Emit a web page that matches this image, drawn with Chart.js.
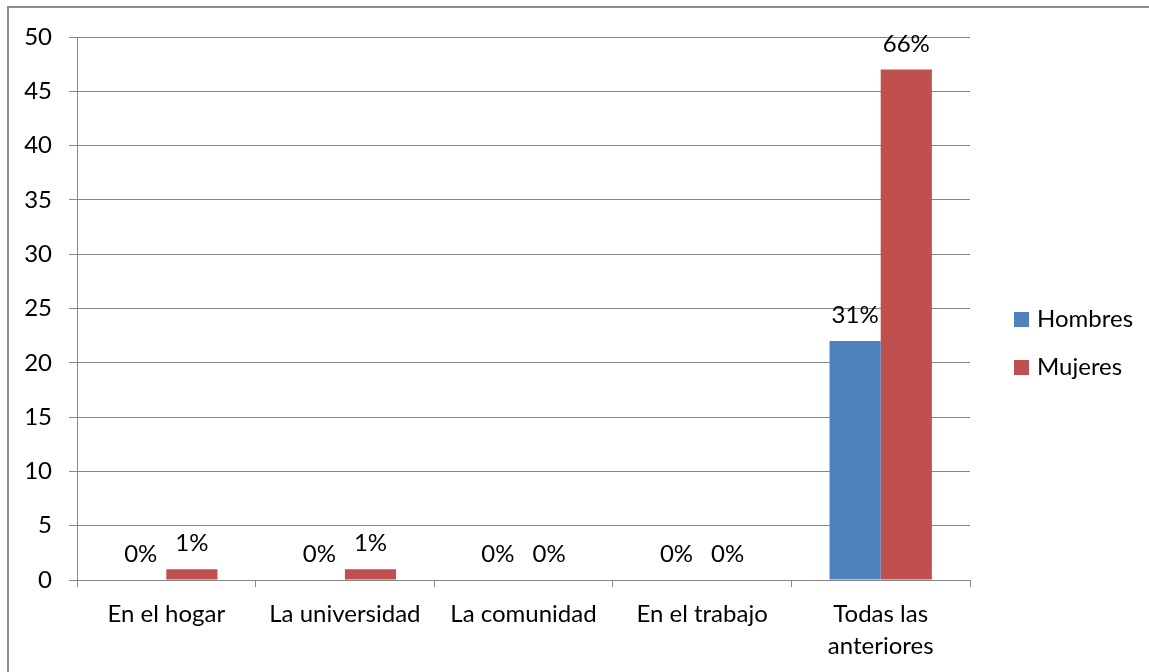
<!DOCTYPE html>
<html>
<head>
<meta charset="utf-8">
<script src="https://cdn.jsdelivr.net/npm/chart.js@4.4.1/dist/chart.umd.min.js"></script>
<style>
html,body{margin:0;padding:0;background:#fff;}
#wrap{width:1149px;height:672px;position:relative;}
</style>
</head>
<body>
<div id="wrap"><canvas id="c" width="1149" height="672"></canvas></div>
<script>
const categories = ['En el hogar', 'La universidad', 'La comunidad', 'En el trabajo', ['Todas las', 'anteriores']];
const seriesNames = ['Hombres', 'Mujeres'];
const hombres = [0, 0, 0, 0, 22];
const mujeres = [1, 1, 0, 0, 47];
const hombresLabels = ['0%', '0%', '0%', '0%', '31%'];
const mujeresLabels = ['1%', '1%', '0%', '0%', '66%'];
const yMin = 0, yMax = 50, yStep = 5;

const FONT = 'Lato';
const FS = 24;
const GRID = '#868686';

const borderPlugin = {
  id: 'outerBorder',
  beforeDraw(chart) {
    const ctx = chart.ctx;
    ctx.save();
    ctx.fillStyle = '#fff';
    ctx.fillRect(0, 0, chart.width, chart.height);
    ctx.strokeStyle = '#8c8c8c';
    ctx.lineWidth = 2;
    ctx.beginPath();
    ctx.moveTo(8, chart.height);
    ctx.lineTo(8, 7);
    ctx.lineTo(chart.width, 7);
    ctx.stroke();
    ctx.restore();
  }
};

const labelPlugin = {
  id: 'barLabels',
  afterDatasetsDraw(chart) {
    const ctx = chart.ctx;
    const sets = [hombresLabels, mujeresLabels];
    ctx.save();
    ctx.font = FS + 'px ' + FONT;
    ctx.fillStyle = '#000';
    ctx.textAlign = 'center';
    ctx.textBaseline = 'alphabetic';
    chart.data.datasets.forEach((ds, di) => {
      const meta = chart.getDatasetMeta(di);
      meta.data.forEach((bar, i) => {
        ctx.fillText(sets[di][i], bar.x, bar.y - 18);
      });
    });
    ctx.restore();
  }
};

// Legend drawn to the right of the plot area, from the datasets
const legendPlugin = {
  id: 'sideLegend',
  afterDraw(chart) {
    const ctx = chart.ctx;
    const area = chart.chartArea;
    const boxX = area.right + 44;
    const firstTop = 312;
    const step = 48;
    ctx.save();
    ctx.font = FS + 'px ' + FONT;
    ctx.textAlign = 'left';
    ctx.textBaseline = 'alphabetic';
    chart.data.datasets.forEach((ds, i) => {
      const y = firstTop + i * step;
      ctx.fillStyle = ds.backgroundColor;
      ctx.fillRect(boxX, y, 15, 15);
      ctx.fillStyle = '#000';
      ctx.fillText(ds.label, boxX + 23, y + 15);
    });
    ctx.restore();
  }
};

new Chart(document.getElementById('c'), {
  type: 'bar',
  data: {
    labels: categories,
    datasets: [
      { label: seriesNames[0], data: hombres, backgroundColor: '#4F81BD', borderWidth: 0 },
      { label: seriesNames[1], data: mujeres, backgroundColor: '#C0504D', borderWidth: 0 }
    ]
  },
  options: {
    responsive: false,
    animation: false,
    devicePixelRatio: 1,
    layout: { padding: { top: 37, right: 179, left: 0, bottom: 0 } },
    datasets: { bar: { categoryPercentage: 0.573, barPercentage: 1.0 } },
    plugins: {
      legend: { display: false },
      tooltip: { enabled: false }
    },
    scales: {
      x: {
        offset: true,
        grid: { display: true, offset: true, drawOnChartArea: false, drawTicks: true, tickLength: 7, color: GRID, lineWidth: 1 },
        border: { display: true, color: GRID, width: 1 },
        ticks: { font: { family: FONT, size: FS, lineHeight: 1.35 }, color: '#000', padding: 11, maxRotation: 0, autoSkip: false },
        afterFit(scale) { scale.height = 92; }
      },
      y: {
        min: yMin, max: yMax,
        grid: { display: true, drawTicks: true, tickLength: 8, color: GRID, lineWidth: 1 },
        border: { display: true, color: GRID, width: 1 },
        ticks: { stepSize: yStep, font: { family: FONT, size: FS }, color: '#000', padding: 17 },
        afterFit(scale) { scale.width = 77; }
      }
    }
  },
  plugins: [borderPlugin, labelPlugin, legendPlugin]
});
</script>
</body>
</html>
